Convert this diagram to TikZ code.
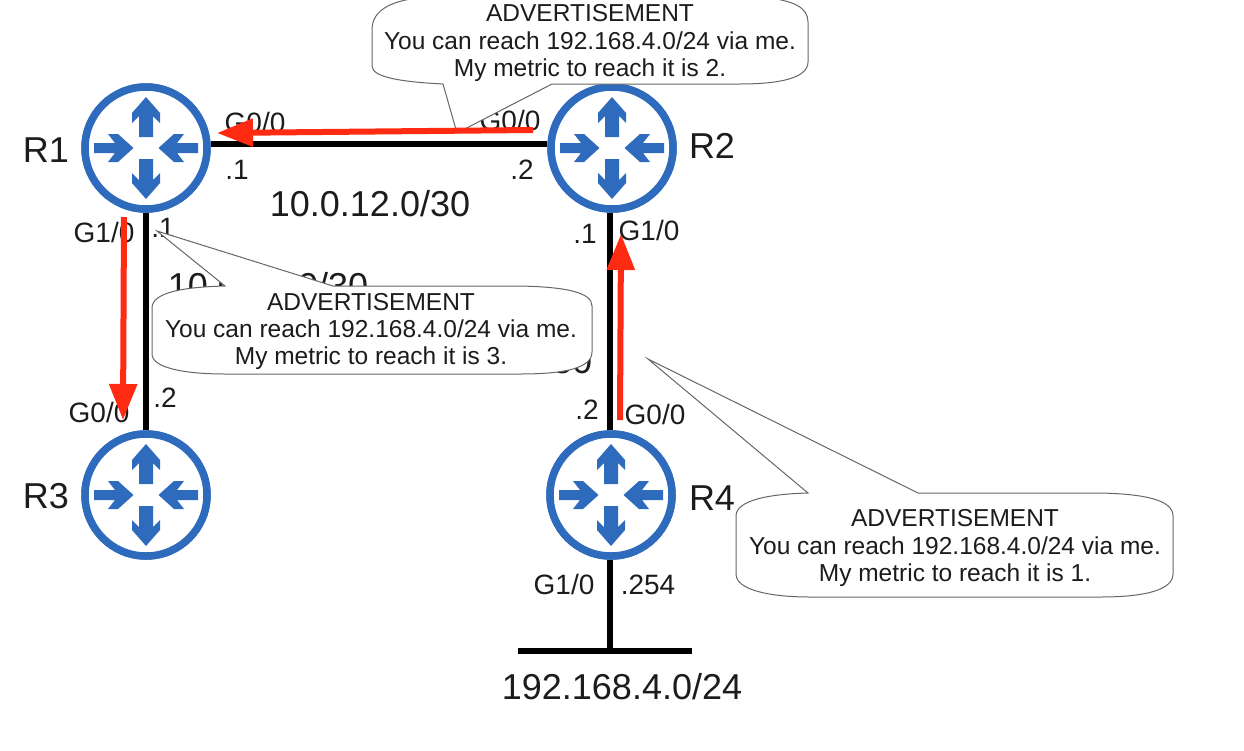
\documentclass[tikz,border=0pt]{standalone}
\usepackage{fontspec}
\setmainfont{Liberation Sans}
\usetikzlibrary{arrows.meta}
\definecolor{routerblue}{HTML}{2E6BBD}
\definecolor{advred}{HTML}{FF2A12}
\definecolor{inkc}{HTML}{1C1C1C}
\tikzset{
  x=1pt,y=-1pt,
  routernode/.style={circle,draw=routerblue,fill=white,line width=7.5pt,minimum size=122pt,inner sep=0pt},
  link/.style={draw=black,line width=6pt},
  advarrow/.style={draw=advred,line width=6pt,-{Triangle[length=36pt,width=27pt]}},
  bigtext/.style={font=\fontsize{36}{40}\selectfont,text=inkc,inner sep=0pt},
  iftext/.style={font=\fontsize{28}{30}\selectfont,text=inkc,inner sep=0pt},
  bubble/.style={draw=black!60,fill=white,line width=1pt},
  bubbletext/.style={font=\fontsize{24.5}{27.2}\selectfont,text=inkc,align=center,inner sep=0pt},
  routerglyph/.pic={
    \foreach \a in {0,180}{
      \fill[routerblue,rotate=\a] (-7,-11) -- (-7,-32) -- (-14,-25) -- (-14,-35) -- (0,-51) -- (14,-35) -- (14,-25) -- (7,-32) -- (7,-11) -- cycle;
    }
    \foreach \a in {90,270}{
      \fill[routerblue,rotate=\a] (-5,-52) -- (5,-52) -- (5,-31) -- (14,-38) -- (14,-28) -- (0,-12.5) -- (-14,-28) -- (-14,-38) -- (-5,-31) -- cycle;
    }
  }
}
\begin{document}
\begin{tikzpicture}
\useasboundingbox (0,0) rectangle (1244,750);
% routers
\node[routernode] (R1) at (146,148) {};
\node[routernode] (R2) at (612,148) {};
\node[routernode] (R3) at (146,495) {};
\node[routernode] (R4) at (611,495) {};
% links
\coordinate (busL) at (518,651);
\coordinate (busR) at (692,651);
\coordinate (busM) at (610,651);
\draw[link] ([yshift=4pt]R1.east) -- ([yshift=4pt]R2.west);
\draw[link] (R1) -- (R3);
\draw[link] ([xshift=-2pt]R2.south) -- ([xshift=-1pt]R4.north);
\draw[link] ([xshift=-1pt]R4.south) -- (busM);
\draw[link] (busL) -- (busR);
\foreach \n in {R1,R2,R3,R4}{\node[routernode] at (\n) {}; \pic at (\n) {routerglyph};}
% labels
\node[bigtext] (lR1) at (46,150) {R1};
\node[bigtext] (lR2) at (712,146) {R2};
\node[bigtext] (lR3) at (46,496) {R3};
\node[bigtext] (lR4) at (712,498) {R4};
\node[bigtext] (n12) at (370,204) {10.0.12.0/30};
\node[bigtext] (n13) at (268,286) {10.0.13.0/30};
\node[bigtext] (n24) at (492,361) {10.0.24.0/30};
\node[bigtext] (n4) at (622,687) {192.168.4.0/24};
\node[iftext] (i1) at (255,122) {G0/0};
\node[iftext] (i2) at (510,120) {G0/0};
\node[iftext] (i3) at (104,232) {G1/0};
\node[iftext] (i4) at (99,412) {G0/0};
\node[iftext] (i5) at (649,230) {G1/0};
\node[iftext] (i6) at (655,414) {G0/0};
\node[iftext] (i7) at (564,584) {G1/0};
\node[iftext] (a1) at (237,170) {.1};
\node[iftext] (a2) at (522,170) {.2};
\node[iftext] (a3) at (163,228) {.1};
\node[iftext] (a4) at (165,398) {.2};
\node[iftext] (a5) at (585,234) {.1};
\node[iftext] (a6) at (587,410) {.2};
\node[iftext] (a7) at (648,585) {.254};
% callouts
\path[bubble] (372,30) .. controls (372,8) and (395,0) .. (425,-3) -- (760,-3)
  .. controls (795,0) and (808,8) .. (808,22) -- (808,62)
  .. controls (808,78) and (780,84) .. (740,84) -- (552,84) -- (457,133) -- (443,84)
  .. controls (405,82) and (372,78) .. (372,66) -- cycle;
\path[bubble] (152,308) .. controls (152,292) and (185,287) .. (225,286) -- (157,231) -- (333,286) -- (520,286)
  .. controls (565,287) and (592,292) .. (592,306) -- (592,352)
  .. controls (592,368) and (565,374) .. (520,374) -- (225,374)
  .. controls (185,374) and (152,368) .. (152,354) -- cycle;
\path[bubble] (736,516) .. controls (736,500) and (770,494) .. (808,493) -- (648,359) -- (918,493) -- (1100,493)
  .. controls (1145,494) and (1173,500) .. (1173,516) -- (1173,574)
  .. controls (1173,590) and (1145,597) .. (1100,597) -- (810,597)
  .. controls (770,597) and (736,590) .. (736,574) -- cycle;
\node[bubbletext] (b1) at (590,43) {ADVERTISEMENT\\You can reach 192.168.4.0/24 via me.\\My metric to reach it is 2.};
\node[bubbletext] (b2) at (371,331.5) {ADVERTISEMENT\\You can reach 192.168.4.0/24 via me.\\My metric to reach it is 3.};
\node[bubbletext] (b3) at (955,548) {ADVERTISEMENT\\You can reach 192.168.4.0/24 via me.\\My metric to reach it is 1.};
% advertisement arrows
\coordinate (r12s) at (533,130);
\coordinate (r12e) at (217,133);
\coordinate (r13s) at (124,217);
\coordinate (r13e) at (123,420);
\coordinate (r42s) at (620,420);
\coordinate (r42e) at (621,234);
\draw[advarrow] (r12s) -- (r12e);
\draw[advarrow] (r13s) -- (r13e);
\draw[advarrow] (r42s) -- (r42e);
\end{tikzpicture}
\end{document}
